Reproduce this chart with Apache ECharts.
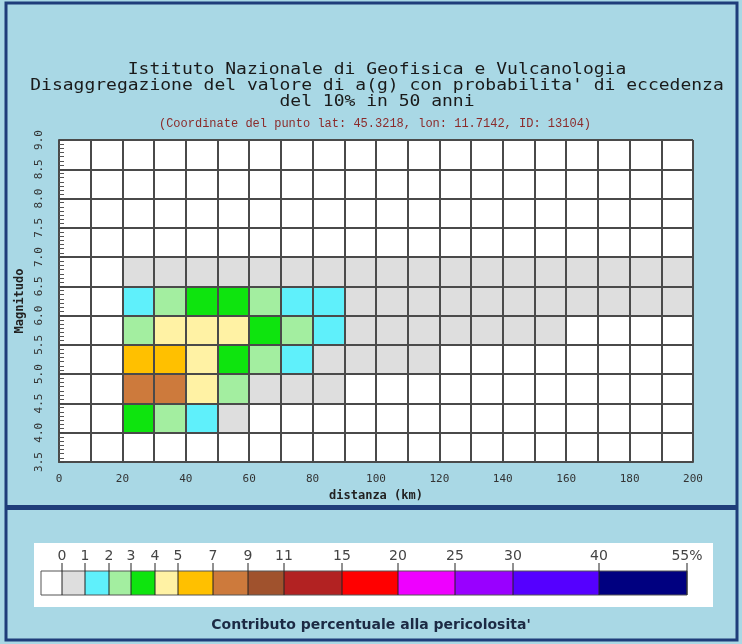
<!DOCTYPE html>
<html><head><meta charset="utf-8">
<script src="https://cdn.jsdelivr.net/npm/echarts@6/dist/echarts.min.js"></script>
<style>html,body{margin:0;padding:0;background:#a9d8e5}#c{width:742px;height:644px}</style>
</head><body><div id="c"></div>
<script>
// ---------- data ----------
const distanceBins = [0,10,20,30,40,50,60,70,80,90,100,110,120,130,140,150,160,170,180,190];
const magnitudeBins = [3.5,4.0,4.5,5.0,5.5,6.0,6.5,7.0,7.5,8.0,8.5];
const contrib_M3_5 = [0,0,0,0,0,0,0,0,0,0,0,0,0,0,0,0,0,0,0,0];
const contrib_M4_0 = [0,0,3.4,2.6,1.7,0.6,0,0,0,0,0,0,0,0,0,0,0,0,0,0];
const contrib_M4_5 = [0,0,8.2,7.6,4.4,2.3,0.8,0.5,0.3,0,0,0,0,0,0,0,0,0,0,0];
const contrib_M5_0 = [0,0,6.1,5.8,4.3,3.2,2.1,1.3,0.8,0.5,0.3,0.2,0,0,0,0,0,0,0,0];
const contrib_M5_5 = [0,0,2.7,4.6,4.5,4.2,3.3,2.2,1.4,0.9,0.7,0.5,0.4,0.3,0.2,0.1,0,0,0,0];
const contrib_M6_0 = [0,0,1.8,2.5,3.6,3.4,2.6,1.9,1.3,0.9,0.8,0.7,0.6,0.5,0.4,0.4,0.3,0.2,0.2,0.1];
const contrib_M6_5 = [0,0,0.9,0.9,0.9,0.8,0.8,0.7,0.6,0.5,0.5,0.4,0.4,0.3,0.3,0.2,0.2,0.2,0.1,0.1];
const contrib_M7_0 = [0,0,0,0,0,0,0,0,0,0,0,0,0,0,0,0,0,0,0,0];
const contrib_M7_5 = [0,0,0,0,0,0,0,0,0,0,0,0,0,0,0,0,0,0,0,0];
const contrib_M8_0 = [0,0,0,0,0,0,0,0,0,0,0,0,0,0,0,0,0,0,0,0];
const contrib_M8_5 = [0,0,0,0,0,0,0,0,0,0,0,0,0,0,0,0,0,0,0,0];
const contribRows = [contrib_M3_5,contrib_M4_0,contrib_M4_5,contrib_M5_0,contrib_M5_5,contrib_M6_0,contrib_M6_5,contrib_M7_0,contrib_M7_5,contrib_M8_0,contrib_M8_5];
const xTickLabels = ['0','20','40','60','80','100','120','140','160','180','200'];
const legendBreaks = [0,1,2,3,4,5,7,9,11,15,20,25,30,40,55];
const legendLabels = ['0','1','2','3','4','5','7','9','11','15','20','25','30','40','55%'];
const classColors = ['#ffffff','#dedede','#5ff0fb','#a3eea0','#0ee40e','#fff2a4','#ffc000','#cd7a3c','#a0522d','#b22222','#ff0000','#ee00ff','#9900ff','#5500ff','#000080'];

// ---------- styling / layout ----------
const DIST_STEP = 10, MAG_STEP = 0.5;
const legendSegWidths = [21,23,24,22,24,23,35,35,36,58,56,57,58,86,88];
const LEG_X0 = 41, LEG_Y0 = 571, LEG_H = 24;

function colorFor(v){
  if (!(v > 0)) return classColors[0];
  for (let i = 1; i < legendBreaks.length; i++) if (v <= legendBreaks[i]) return classColors[i];
  return classColors[classColors.length-1];
}

const cells = [];
magnitudeBins.forEach((m, r) => {
  distanceBins.forEach((d, c) => {
    const v = contribRows[r][c];
    if (v > 0) cells.push([d, m, v]);
  });
});

// legend graphics
const legendEls = [];
legendEls.push({type:'rect', shape:{x:34,y:543,width:679,height:64}, style:{fill:'#ffffff'}});
let xx = LEG_X0;
legendSegWidths.forEach((w, i) => {
  legendEls.push({type:'rect', shape:{x:xx,y:LEG_Y0,width:w,height:LEG_H}, style:{fill: classColors[i]}});
  xx += w;
});
legendEls.push({type:'rect', shape:{x:LEG_X0,y:LEG_Y0,width:xx-LEG_X0,height:LEG_H}, style:{fill:'none', stroke:'#555', lineWidth:1}});
legendLabels.forEach((lab, i) => {
  const tx = LEG_X0 + legendSegWidths.slice(0, i+1).reduce((a,b)=>a+b,0);
  legendEls.push({type:'line', shape:{x1:tx,y1:LEG_Y0-8,x2:tx,y2:LEG_Y0+LEG_H}, style:{stroke:'#222', lineWidth:1}});
  legendEls.push({type:'text', x:tx, y:556, style:{text:lab, font:'14px "DejaVu Sans"', fill:'#444', align:'center', verticalAlign:'middle'}});
});

const chart = echarts.init(document.getElementById('c'), null, {renderer:'canvas'});
chart.setOption({
  animation:false,
  backgroundColor:'#a9d8e5',
  graphic:[
    {type:'rect', shape:{x:6,y:3,width:731,height:637}, style:{fill:'none', stroke:'#1f3d7a', lineWidth:3}},
    {type:'line', shape:{x1:6,y1:507.5,x2:737,y2:507.5}, style:{stroke:'#1f3d7a', lineWidth:5}},
    {type:'text', x:377, y:62, scaleX:1.2, style:{text:'Istituto Nazionale di Geofisica e Vulcanologia\nDisaggregazione del valore di a(g) con probabilita\' di eccedenza\ndel 10% in 50 anni', font:'15px "DejaVu Sans Mono"', fill:'#1a1a1a', align:'center', verticalAlign:'top', lineHeight:16}},
    {type:'text', x:375, y:124, style:{text:'(Coordinate del punto lat: 45.3218, lon: 11.7142, ID: 13104)', font:'12px "Liberation Mono"', fill:'#8b2a2a', align:'center', verticalAlign:'middle'}},
    ...legendEls,
    {type:'text', x:371, y:625, style:{text:'Contributo percentuale alla pericolosita\'', font:'bold 14px "DejaVu Sans"', fill:'#1c2a44', align:'center', verticalAlign:'middle'}}
  ],
  grid:{left:59, right:49, top:140, bottom:182, backgroundColor:'#ffffff', show:true, borderWidth:0},
  xAxis:{
    type:'value', min:0, max:200, interval:DIST_STEP, z:10,
    name:'distanza (km)', nameLocation:'middle', nameGap:28,
    nameTextStyle:{fontFamily:'DejaVu Sans Mono', fontWeight:'bold', fontSize:12, color:'#222'},
    axisLine:{show:true, lineStyle:{color:'#4a4a4a', width:2}},
    axisTick:{show:false},
    splitLine:{show:true, lineStyle:{color:'#4a4a4a', width:2}},
    axisLabel:{margin:12, fontFamily:'DejaVu Sans Mono', fontSize:11, color:'#333',
      formatter:v => xTickLabels.includes(String(v)) ? String(v) : ''}
  },
  yAxis:{
    type:'value', min:3.5, max:9.0, interval:MAG_STEP, z:10,
    name:'Magnitudo', nameLocation:'middle', nameGap:33, nameRotate:90,
    nameTextStyle:{fontFamily:'DejaVu Sans Mono', fontWeight:'bold', fontSize:12, color:'#222'},
    axisLine:{show:true, lineStyle:{color:'#4a4a4a', width:2}},
    axisTick:{show:true, inside:true, length:5, lineStyle:{color:'#444'}},
    minorTick:{show:true, splitNumber:7, length:5, lineStyle:{color:'#555'}},
    splitLine:{show:true, lineStyle:{color:'#4a4a4a', width:2}},
    axisLabel:{rotate:90, margin:14, fontFamily:'DejaVu Sans Mono', fontSize:11, color:'#333',
      formatter:v => v.toFixed(1)}
  },
  series:[{
    type:'custom', clip:true, data:cells, z:2,
    renderItem:(params, api) => {
      const p0 = api.coord([api.value(0), api.value(1) + MAG_STEP]);
      const p1 = api.coord([api.value(0) + DIST_STEP, api.value(1)]);
      return {type:'rect', shape:{x:p0[0], y:p0[1], width:p1[0]-p0[0], height:p1[1]-p0[1]},
              style:{fill:colorFor(api.value(2))}};
    }
  }]
});
</script></body></html>
